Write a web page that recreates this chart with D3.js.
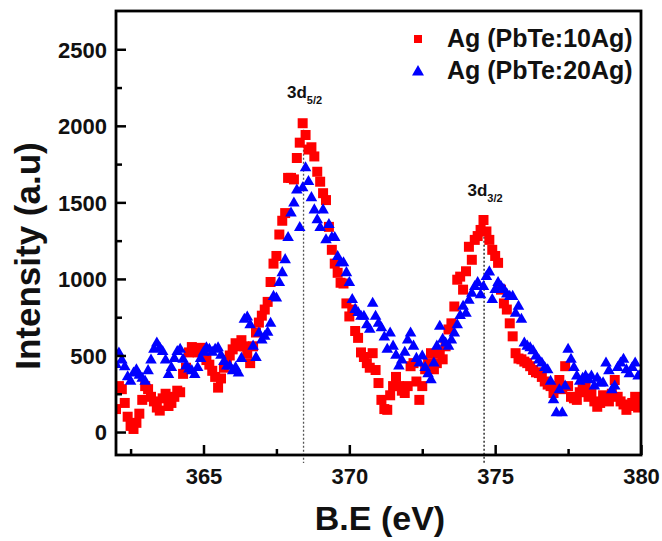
<!DOCTYPE html>
<html>
  <head>
    <meta charset="utf-8"/>
    <style>
body {
  margin: 0;
  background: #fff;
}
svg {
  display: block;
  font-family: "Liberation Sans", Arial, sans-serif;
  font-weight: bold;
}
    </style>
  </head>
  <body>
    <svg id="chart" width="662" height="541"></svg>
    <script src="https://cdnjs.cloudflare.com/ajax/libs/d3/7.8.5/d3.min.js"></script>
    <script>
// binding energy grid (eV)
const energy = [
  362.0, 362.1, 362.2, 362.3, 362.4, 362.5, 362.6, 362.7, 362.8, 362.9,
  363.0, 363.1, 363.2, 363.3, 363.4, 363.5, 363.6, 363.7, 363.8, 363.9,
  364.0, 364.1, 364.2, 364.3, 364.4, 364.5, 364.6, 364.7, 364.8, 364.9,
  365.0, 365.1, 365.2, 365.3, 365.4, 365.5, 365.6, 365.7, 365.8, 365.9,
  366.0, 366.1, 366.2, 366.3, 366.4, 366.5, 366.6, 366.7, 366.8, 366.9,
  367.0, 367.1, 367.2, 367.3, 367.4, 367.5, 367.6, 367.7, 367.8, 367.9,
  368.0, 368.1, 368.2, 368.3, 368.4, 368.5, 368.6, 368.7, 368.8, 368.9,
  369.0, 369.1, 369.2, 369.3, 369.4, 369.5, 369.6, 369.7, 369.8, 369.9,
  370.0, 370.1, 370.2, 370.3, 370.4, 370.5, 370.6, 370.7, 370.8, 370.9,
  371.0, 371.1, 371.2, 371.3, 371.4, 371.5, 371.6, 371.7, 371.8, 371.9,
  372.0, 372.1, 372.2, 372.3, 372.4, 372.5, 372.6, 372.7, 372.8, 372.9,
  373.0, 373.1, 373.2, 373.3, 373.4, 373.5, 373.6, 373.7, 373.8, 373.9,
  374.0, 374.1, 374.2, 374.3, 374.4, 374.5, 374.6, 374.7, 374.8, 374.9,
  375.0, 375.1, 375.2, 375.3, 375.4, 375.5, 375.6, 375.7, 375.8, 375.9,
  376.0, 376.1, 376.2, 376.3, 376.4, 376.5, 376.6, 376.7, 376.8, 376.9,
  377.0, 377.1, 377.2, 377.3, 377.4, 377.5, 377.6, 377.7, 377.8, 377.9,
  378.0, 378.1, 378.2, 378.3, 378.4, 378.5, 378.6, 378.7, 378.8, 378.9,
  379.0, 379.1, 379.2, 379.3, 379.4, 379.5, 379.6, 379.7, 379.8, 379.9,
  380.0
];
// Ag (PbTe:10Ag)
const ag10 = [
  150, 300, 280, 190, 100, 40, 20, 60, 120, 210,
  300, 280, 230, 200, 160, 140, 220, 250, 170, 190,
  230, 270, 260, 380, 420, 520, 555, 540, 520, 550,
  500, 470, 440, 400, 360, 290, 350, 420, 470, 500,
  540, 580, 560, 600, 560, 515, 450, 560, 650, 715,
  760, 800, 850, 980, 1100, 1150, 1290, 1380, 1430, 1660,
  1660, 1650, 1790, 1890, 2017, 1940, 1845, 1860, 1800, 1700,
  1635, 1560, 1515, 1340, 1190, 1100, 1040, 975, 970, 840,
  755, 800, 660, 615, 520, 490, 450, 420, 515, 405,
  320, 210, 150, 145, 240, 300, 360, 300, 270, 255,
  300, 430, 450, 330, 210, 300, 410, 450, 515, 410,
  450, 515, 475, 560, 670, 710, 820, 995, 1015, 930,
  1050, 1210, 1125, 1255, 1280, 1320, 1385, 1310, 1255, 1190,
  1150, 1105, 930, 840, 800, 710, 625, 515, 480, 475,
  460, 450, 430, 405, 390, 385, 360, 330, 310, 300,
  255, 300, 340, 280, 430, 300, 230, 220, 210, 260,
  280, 320, 230, 260, 200, 165, 190, 240, 210, 200,
  250, 340, 230, 200, 180, 145, 170, 190, 230, 160,
  210
];
// Ag (PbTe:20Ag)
const ag20 = [
  440, 515, 470, 425, 360, 330, 385, 405, 370, 350,
  330, 400, 470, 540, 580, 550, 525, 470, 375, 420,
  480, 525, 540, 475, 430, 410, 400, 375, 420, 480,
  520, 550, 540, 520, 540, 550, 500, 460, 430, 430,
  400, 420, 385, 480, 735, 750, 700, 560, 485, 645,
  600, 625, 650, 710, 885, 875, 975, 1040, 1125, 1270,
  1430, 1495, 1580, 1335, 1595, 1725, 1635, 1530, 1450, 1385,
  1335, 1450, 1255, 1355, 1270, 1270, 1145, 1105, 1105, 1040,
  975, 865, 800, 780, 755, 755, 700, 670, 840, 755,
  710, 680, 620, 540, 645, 560, 500, 430, 470, 520,
  600, 645, 560, 480, 450, 495, 420, 380, 340, 450,
  560, 690, 605, 580, 560, 600, 645, 700, 760, 820,
  775, 860, 905, 950, 975, 895, 950, 1015, 1045, 865,
  930, 975, 950, 930, 900, 885, 885, 775, 820, 735,
  580, 560, 550, 530, 495, 470, 450, 420, 405, 330,
  210, 125, 275, 125, 300, 540, 475, 420, 365, 330,
  350, 365, 340, 365, 300, 350, 320, 320, 450, 400,
  275, 300, 420, 450, 475, 405, 380, 420, 450, 365,
  380
];
const seriesNames = ["Ag (PbTe:10Ag)", "Ag (PbTe:20Ag)"];
const xTicks = [365, 370, 375, 380];
const xMinor = [362.5, 367.5, 372.5, 377.5];
const yTicks = [0, 500, 1000, 1500, 2000, 2500];
const yMinor = [250, 750, 1250, 1750, 2250];
// peak markers: position (eV), top of dotted line, label height
const peakE = [368.43, 374.62];
const peakTop = [2000, 1380];
const peakLabelY = [2180, 1540];
const peakSub = ["5/2", "3/2"];

const mLeft = 116, mRight = 641, mTop = 11, mBottom = 455;

const svg = d3.select("#chart");
const x = d3.scaleLinear().domain([362, 380]).range([mLeft, mRight]);
const y = d3.scaleLinear().domain([-150, 2750]).range([mBottom, mTop]);

svg.append("defs").append("clipPath").attr("id", "plotclip")
  .append("rect")
    .attr("x", mLeft).attr("y", mTop)
    .attr("width", mRight - mLeft).attr("height", mBottom - mTop);

// dotted peak lines
svg.append("g")
  .selectAll("line")
  .data(peakE)
  .join("line")
    .attr("x1", d => x(d)).attr("x2", d => x(d))
    .attr("y1", (d, i) => y(peakTop[i]))
    .attr("y2", mBottom + 8)
    .attr("stroke", (d, i) => i === 0 ? "#555" : "#111")
    .attr("stroke-width", 1.3)
    .attr("stroke-dasharray", "2,2");

const plot = svg.append("g").attr("clip-path", "url(#plotclip)");

const square = d3.symbol().type(d3.symbolSquare).size(100);
const tri = d3.symbol().type(d3.symbolTriangle).size(58);

plot.append("g")
  .selectAll("path")
  .data(energy.map((e, i) => [e, ag10[i]]))
  .join("path")
    .attr("d", square)
    .attr("transform", d => `translate(${x(d[0])},${y(d[1])})`)
    .attr("fill", "#ff0000");

plot.append("g")
  .selectAll("path")
  .data(energy.map((e, i) => [e, ag20[i]]))
  .join("path")
    .attr("d", tri)
    .attr("transform", d => `translate(${x(d[0])},${y(d[1])})`)
    .attr("fill", "#0000ff");

// axes (ticks point inward)
svg.append("g")
  .attr("transform", `translate(0,${mBottom})`)
  .call(d3.axisBottom(x).tickValues(xTicks).tickSize(-10).tickPadding(13).tickFormat(d3.format("d")));
svg.append("g")
  .attr("transform", `translate(0,${mBottom})`)
  .call(d3.axisBottom(x).tickValues(xMinor).tickSize(-6).tickFormat(""));
const yAxis = svg.append("g")
  .attr("transform", `translate(${mLeft},0)`)
  .call(d3.axisLeft(y).tickValues(yTicks).tickSize(-10).tickPadding(9).tickFormat(d3.format("d")));
svg.append("g")
  .attr("transform", `translate(${mLeft},0)`)
  .call(d3.axisLeft(y).tickValues(yMinor).tickSize(-6).tickFormat(""));

svg.selectAll(".domain").remove();
svg.selectAll(".tick line").attr("stroke", "#000").attr("stroke-width", 2.5);
svg.selectAll(".tick text")
  .attr("fill", "#111")
  .style("font-size", "22px")
  .style("font-family", "'Liberation Sans', Arial, sans-serif")
  .style("font-weight", "bold");
yAxis.selectAll(".tick text").attr("dy", "0.36em");

// frame
svg.append("rect")
  .attr("x", mLeft).attr("y", mTop)
  .attr("width", mRight - mLeft).attr("height", mBottom - mTop)
  .attr("fill", "none")
  .attr("stroke", "#000")
  .attr("stroke-width", 2.8);

// peak labels
const lab = svg.append("g")
  .selectAll("text")
  .data(peakE)
  .join("text")
    .attr("x", d => x(d) + 1)
    .attr("y", (d, i) => y(peakLabelY[i]))
    .attr("text-anchor", "middle")
    .attr("fill", "#111")
    .style("font-size", "17px");
lab.append("tspan").text("3d");
lab.append("tspan")
  .attr("dy", 6)
  .style("font-size", "11px")
  .text((d, i) => peakSub[i]);

// legend
const legend = svg.append("g");
legend.append("path")
  .attr("d", d3.symbol().type(d3.symbolSquare).size(64))
  .attr("transform", "translate(418,39)")
  .attr("fill", "#ff0000");
legend.append("path")
  .attr("d", d3.symbol().type(d3.symbolTriangle).size(62))
  .attr("transform", "translate(418,72)")
  .attr("fill", "#0000ff");
legend.selectAll("text")
  .data(seriesNames)
  .join("text")
    .attr("x", 447)
    .attr("y", (d, i) => 47 + i * 32)
    .attr("fill", "#111")
    .style("font-size", "25px")
    .text(d => d);

// axis titles
svg.append("text")
  .attr("x", 380)
  .attr("y", 530)
  .attr("text-anchor", "middle")
  .attr("fill", "#111")
  .style("font-size", "34px")
  .text("B.E (eV)");
svg.append("text")
  .attr("transform", "translate(40,256) rotate(-90)")
  .attr("text-anchor", "middle")
  .attr("fill", "#111")
  .style("font-size", "35px")
  .text("Intensity (a.u)");
    </script>
  </body>
</html>
